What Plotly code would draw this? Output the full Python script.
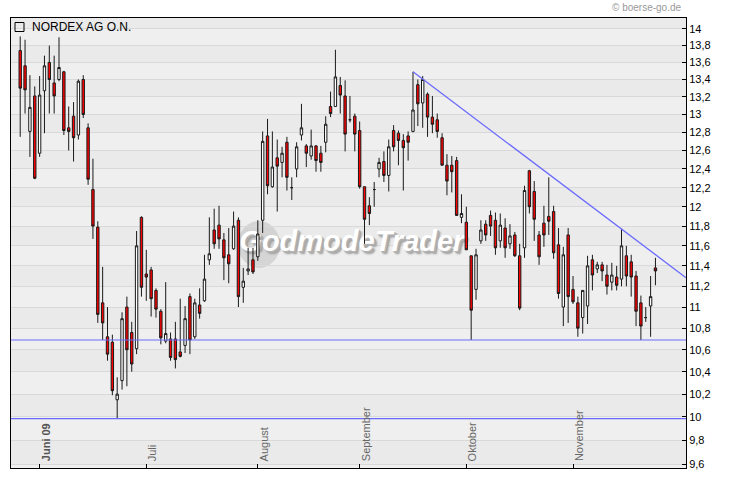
import math
import pandas as pd
import plotly.graph_objects as go

# ---------------- data ----------------
dates = pd.bdate_range("2009-05-26", periods=132)

open_ = [13.74, 13.56, 12.81, 13.21, 12.57, 13.27, 13.60, 13.36, 13.40, 13.49,
         12.85, 12.98, 12.77, 13.40, 12.85, 12.18, 11.79, 11.04, 10.72, 10.67,
         10.15, 10.32, 11.00, 10.76, 10.61, 11.89, 11.32, 11.36, 11.16, 10.96,
         10.68, 10.70, 10.70, 10.58, 10.64, 11.10, 10.72, 11.02, 11.06, 11.46,
         11.76, 11.81, 11.66, 11.51, 11.57, 11.86, 11.19, 11.35, 11.46, 11.49,
         11.86, 12.76, 12.21, 12.52, 12.47, 12.69, 12.20, 12.40, 12.77, 12.65,
         12.54, 12.65, 12.57, 12.69, 13.09, 13.09, 13.33, 13.21, 12.94, 12.98,
         12.82, 12.21, 12.01, 12.18, 12.40, 12.48, 12.33, 12.82, 12.79, 12.71,
         12.76, 12.81, 13.34, 13.13, 13.23, 12.97, 12.94, 12.74, 12.44, 12.44,
         12.49, 11.89, 11.84, 11.50, 11.17, 11.65, 11.82, 11.91, 11.86, 11.65,
         11.78, 11.62, 11.71, 11.50, 11.58, 12.38, 12.16, 11.71, 11.83, 11.90,
         11.95, 11.61, 11.00, 11.71, 11.17, 11.04, 10.90, 11.01, 11.46, 11.37,
         11.41, 11.31, 11.24, 11.29, 11.27, 11.50, 11.44, 11.30, 11.04, 10.90,
         11.01, 11.38]
high = [13.91, 13.87, 13.45, 13.32, 13.44, 13.68, 13.80, 13.68, 13.90, 13.50,
        13.09, 13.14, 13.40, 13.45, 12.90, 12.51, 11.85, 11.39, 11.00, 10.74,
        10.35, 10.95, 11.10, 10.86, 11.75, 11.90, 11.56, 11.39, 11.18, 10.98,
        11.24, 10.76, 10.86, 11.08, 11.01, 11.13, 11.08, 11.18, 11.51, 11.89,
        11.98, 12.01, 11.73, 11.78, 11.95, 11.89, 11.38, 11.58, 11.58, 11.86,
        12.81, 12.95, 12.81, 12.72, 12.64, 12.75, 12.31, 12.69, 13.12, 12.67,
        12.83, 12.66, 12.65, 12.98, 13.26, 13.75, 13.43, 13.39, 13.21, 13.01,
        12.92, 12.21, 12.10, 12.26, 12.52, 12.59, 12.72, 12.88, 12.82, 12.78,
        12.81, 13.49, 13.40, 13.44, 13.25, 13.21, 13.01, 12.79, 12.56, 12.54,
        12.53, 12.13, 12.00, 11.50, 11.57, 11.86, 11.86, 11.96, 11.94, 11.93,
        11.88, 11.82, 11.74, 11.62, 12.22, 12.39, 12.27, 11.75, 12.01, 12.31,
        12.01, 11.78, 11.59, 11.78, 11.30, 11.10, 11.16, 11.50, 11.51, 11.44,
        11.44, 11.41, 11.43, 11.40, 11.77, 11.60, 11.51, 11.35, 11.11, 11.00,
        11.30, 11.48]
low = [12.75, 13.01, 12.53, 12.29, 12.53, 12.79, 13.01, 13.01, 13.38, 12.77,
       12.60, 12.48, 12.72, 12.96, 12.23, 11.67, 10.85, 10.69, 10.50, 10.19,
       9.985, 10.24, 10.27, 10.40, 10.56, 11.10, 11.06, 10.91, 10.90, 10.65,
       10.66, 10.50, 10.43, 10.53, 10.57, 10.56, 10.70, 10.89, 11.05, 11.41,
       11.57, 11.57, 11.26, 11.23, 11.56, 11.00, 11.04, 11.31, 11.32, 11.45,
       11.73, 12.13, 12.20, 11.95, 12.31, 12.17, 12.07, 12.31, 12.71, 12.42,
       12.50, 12.37, 12.37, 12.58, 12.97, 13.09, 13.01, 12.59, 12.91, 12.59,
       12.19, 11.62, 11.81, 12.00, 12.31, 12.26, 12.16, 12.59, 12.44, 12.17,
       12.49, 12.80, 12.87, 12.85, 12.75, 12.79, 12.74, 12.44, 12.12, 12.15,
       11.91, 11.83, 11.56, 10.69, 11.07, 11.62, 11.65, 11.70, 11.51, 11.58,
       11.48, 11.57, 11.49, 10.97, 11.48, 11.93, 11.65, 11.41, 11.59, 11.71,
       11.47, 11.08, 10.82, 10.85, 11.03, 10.72, 10.75, 10.84, 11.16, 11.33,
       11.25, 11.12, 11.16, 11.16, 11.20, 11.20, 11.10, 10.82, 10.69, 10.86,
       10.72, 11.21]
close = [13.30, 13.28, 13.08, 12.30, 13.22, 13.56, 13.40, 13.21, 13.54, 12.82,
         12.81, 12.74, 13.38, 13.00, 12.29, 11.80, 10.93, 10.85, 10.56, 10.23,
         10.20, 10.89, 10.60, 10.47, 11.60, 11.19, 11.29, 11.08, 10.98, 10.71,
         10.75, 10.53, 10.51, 10.54, 10.89, 10.69, 11.04, 10.94, 11.27, 11.52,
         11.62, 11.67, 11.48, 11.42, 11.80, 11.10, 11.25, 11.37, 11.34, 11.72,
         12.70, 12.22, 12.42, 12.43, 12.57, 12.31, 12.20, 12.64, 12.85, 12.57,
         12.65, 12.49, 12.47, 12.89, 13.01, 13.43, 13.22, 12.78, 12.94, 12.78,
         12.21, 11.87, 11.93, 12.18, 12.47, 12.33, 12.64, 12.64, 12.71, 12.63,
         12.69, 13.05, 13.12, 13.40, 12.97, 12.89, 12.81, 12.44, 12.27, 12.37,
         11.91, 11.93, 11.56, 10.97, 11.51, 11.76, 11.71, 11.80, 11.58, 11.81,
         11.58, 11.70, 11.50, 10.99, 12.17, 12.00, 11.87, 11.49, 11.71, 11.85,
         11.53, 11.13, 11.51, 11.10, 11.05, 10.80, 11.16, 11.40, 11.31, 11.41,
         11.35, 11.20, 11.31, 11.21, 11.60, 11.30, 11.29, 10.96, 10.82, 10.90,
         11.10, 11.35]

y_ticks = [9.6, 9.8, 10.0, 10.2, 10.4, 10.6, 10.8, 11.0, 11.2, 11.4, 11.6, 11.8,
           12.0, 12.2, 12.4, 12.6, 12.8, 13.0, 13.2, 13.4, 13.6, 13.8, 14.0]
y_tick_text = [("%g" % v).replace(".", ",") for v in y_ticks]

month_names = {6: "Juni 09", 7: "Juli", 8: "August", 9: "September",
               10: "Oktober", 11: "November"}

title_text = "NORDEX AG O.N."
copyright_text = "© boerse-go.de"
watermark_text = "GodmodeTrader"

# ---------------- geometry ----------------
W, H = 730, 481
ML, MR, MT, MB = 11, 44, 18, 13
PW, PH = W - ML - MR, H - MT - MB
Y_MIN, Y_MAX = 9.567, 14.134
LO, HI = math.log10(Y_MIN), math.log10(Y_MAX)
X_RANGE = [-1.9, 137.3]

x = list(range(len(dates)))


def ypaper(v):
    return (math.log10(v) - LO) / (HI - LO)


def px_x(p):
    return (p - ML) / PW


def px_y(p):
    return (H - MB - p) / PH


# month start indices
month_idx = []
prev = None
for i, d in enumerate(dates):
    if d.month != prev:
        if d.month in month_names and (i > 0 or d.day == 1):
            month_idx.append((i, d.month))
        prev = d.month

fig = go.Figure()

# watermark (main subplot, beneath the candles drawn on overlay subplot)
fig.add_trace(go.Scatter(
    x=[68.4], y=[11.62], mode="text",
    text=["<b><i>%s</i></b>" % watermark_text],
    textposition="middle center",
    textfont=dict(family="Liberation Sans Narrow, Liberation Sans, Arial",
                  size=29, color="white", weight="bold", style="italic",
                  shadow="1px 1px 0px #b5b5b5, 2px 2px 0px #adadad, 3px 3px 2px #999999"),
    hoverinfo="skip", showlegend=False, xaxis="x", yaxis="y"))

# candles
fig.add_trace(go.Candlestick(
    x=x, open=open_, high=high, low=low, close=close,
    increasing=dict(fillcolor="#ffffff", line=dict(color="#1a1a1a", width=1)),
    decreasing=dict(fillcolor="#ff0000", line=dict(color="#1a1a1a", width=1)),
    whiskerwidth=0, showlegend=False, xaxis="x2", yaxis="y2"))

# trend line through the two highs touching it
i0, i1 = 81, 124
slope = (math.log10(high[i1]) - math.log10(high[i0])) / (i1 - i0)
x_end = X_RANGE[1]
trend_x = [i0, x_end]
trend_y = [high[i0], 10 ** (math.log10(high[i0]) + slope * (x_end - i0))]
line_col = "#6a6aff"
fig.add_trace(go.Scatter(x=trend_x, y=trend_y, mode="lines",
                         line=dict(color=line_col, width=1.3),
                         hoverinfo="skip", showlegend=False,
                         xaxis="x2", yaxis="y2"))
# support lines at the lows
for lvl in [low[93], low[20]]:
    fig.add_trace(go.Scatter(x=X_RANGE, y=[lvl, lvl], mode="lines",
                             line=dict(color=line_col, width=1.2),
                             hoverinfo="skip", showlegend=False,
                             xaxis="x2", yaxis="y2"))

# background bands
shapes = []
edges = [Y_MIN] + y_ticks + [Y_MAX]
for k in range(len(edges) - 1):
    col = "#efefef" if k % 2 == 0 else "#eaeaea"
    shapes.append(dict(type="rect", xref="paper", yref="paper",
                       x0=0, x1=1, y0=ypaper(edges[k]), y1=ypaper(edges[k + 1]),
                       fillcolor=col, line=dict(width=0), layer="below"))
# watermark globe
shapes.append(dict(type="circle", xref="paper", yref="paper",
                   x0=px_x(238), x1=px_x(280), y0=px_y(268), y1=px_y(221),
                   fillcolor="rgba(195,195,195,0.6)", line=dict(width=0),
                   layer="below"))
# legend square for title
shapes.append(dict(type="rect", xref="paper", yref="paper",
                   x0=px_x(15), x1=px_x(24), y0=px_y(31.5), y1=px_y(22.5),
                   line=dict(color="black", width=1), fillcolor="rgba(0,0,0,0)",
                   layer="above"))

annotations = [
    dict(text=title_text, xref="paper", yref="paper", x=px_x(29.5), y=px_y(27),
         xanchor="left", yanchor="middle", showarrow=False,
         font=dict(family="Liberation Sans, Arial", size=12, color="black")),
    dict(text=copyright_text, xref="paper", yref="paper", x=px_x(684), y=px_y(7.5),
         xanchor="right", yanchor="middle", showarrow=False,
         font=dict(family="Liberation Sans, Arial", size=10, color="#999999")),
]
for i, m in month_idx:
    name = month_names[m]
    bold = m == 6
    annotations.append(dict(
        text=("<b>%s</b>" % name) if bold else name,
        xref="x", yref="paper", x=i + 1.25, y=px_y(463.5),
        xanchor="center", yanchor="bottom", textangle=-90, showarrow=False,
        font=dict(family="Liberation Sans, Arial", size=11,
                  color="#555555" if bold else "#666666")))

fig.update_layout(
    width=W, height=H,
    margin=dict(l=ML, r=MR, t=MT, b=MB, pad=0, autoexpand=False),
    paper_bgcolor="white", plot_bgcolor="#eeeeee",
    showlegend=False,
    shapes=shapes, annotations=annotations,
    xaxis=dict(range=X_RANGE, showgrid=False, zeroline=False,
               tickvals=[i for i, _ in month_idx], ticks="inside", ticklen=4,
               tickcolor="black", showticklabels=False,
               showline=True, linecolor="black", linewidth=1, mirror=True,
               rangeslider=dict(visible=False), fixedrange=True),
    yaxis=dict(type="log", range=[LO, HI], side="right",
               tickvals=y_ticks, ticktext=y_tick_text,
               ticks="inside", ticklen=4, tickcolor="black",
               tickfont=dict(family="Liberation Sans, Arial", size=11, color="black"),
               showgrid=True, gridcolor="#d9d9d9", gridwidth=1, zeroline=False,
               showline=True, linecolor="black", linewidth=1, mirror=True),
    xaxis2=dict(range=X_RANGE, overlaying="x", visible=False,
                rangeslider=dict(visible=False), fixedrange=True),
    yaxis2=dict(type="log", range=[LO, HI], overlaying="y", visible=False),
)

fig.write_html("out.html",
               config={"displayModeBar": False},
               post_script="document.body.style.margin='0px';"
                           "document.body.style.overflow='hidden';")
